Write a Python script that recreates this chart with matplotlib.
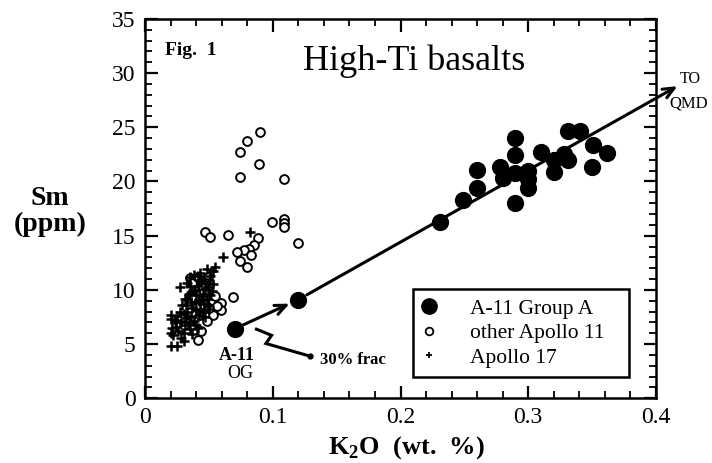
import matplotlib
matplotlib.use("Agg")
import matplotlib.pyplot as plt
from matplotlib.lines import Line2D
from matplotlib.ticker import MultipleLocator

# A-11 Group A (filled circles)
groupa_k2o = [0.231, 0.249, 0.260, 0.260, 0.278, 0.280, 0.290, 0.290, 0.290, 0.290,
              0.300, 0.300, 0.300, 0.310, 0.320, 0.320, 0.328, 0.331, 0.331, 0.341,
              0.350, 0.351, 0.362]
groupa_sm = [16.3, 18.3, 19.4, 21.1, 21.3, 20.3, 24.0, 22.4, 20.8, 18.0,
             21.0, 19.4, 20.2, 22.7, 22.0, 20.9, 22.5, 24.7, 22.0, 24.7,
             21.3, 23.4, 22.6]

# model points: A-11 OG parent and 30% fractionation product
og_k2o, og_sm = 0.070, 6.4
frac_k2o, frac_sm = 0.120, 9.1
qmd_k2o, qmd_sm = 0.417, 28.8

# other Apollo 11 (open circles)
a11_k2o = [0.090, 0.080, 0.0745, 0.0895, 0.0745, 0.109,
           0.047, 0.051, 0.065, 0.0996, 0.109, 0.109, 0.109, 0.120,
           0.0886, 0.085, 0.081, 0.077, 0.072, 0.0745, 0.080, 0.083,
           0.069, 0.059, 0.059, 0.053, 0.041, 0.035, 0.049, 0.051,
           0.053, 0.056, 0.038, 0.043, 0.048, 0.045, 0.040, 0.035,
           0.030, 0.044, 0.050, 0.046, 0.055, 0.037]
a11_sm = [24.6, 23.7, 22.7, 21.6, 20.4, 20.2,
          15.3, 14.9, 15.1, 16.3, 16.5, 16.2, 15.8, 14.3,
          14.8, 14.1, 13.8, 13.7, 13.5, 12.7, 12.1, 13.2,
          9.3, 8.8, 8.1, 7.7, 5.4, 11.1, 11.2, 9.6,
          9.0, 8.5, 9.3, 7.7, 7.1, 10.2, 8.4, 7.2,
          6.8, 6.2, 8.3, 9.8, 9.4, 10.6]

# Apollo 17 (plus signs)
a17_k2o = [0.027, 0.020, 0.020, 0.020, 0.020, 0.025, 0.021, 0.024, 0.026, 0.028,
           0.030, 0.031, 0.032, 0.033, 0.034, 0.035, 0.036, 0.037, 0.038, 0.039,
           0.040, 0.041, 0.042, 0.043, 0.044, 0.045, 0.046, 0.047, 0.048, 0.049,
           0.050, 0.051, 0.052, 0.053, 0.035, 0.038, 0.041, 0.033, 0.031, 0.029,
           0.027, 0.025, 0.023, 0.040, 0.042, 0.045, 0.047, 0.050, 0.055, 0.061,
           0.082, 0.037, 0.041, 0.033, 0.036, 0.039, 0.043, 0.048, 0.053, 0.030,
           0.028, 0.030, 0.032, 0.034, 0.036, 0.038, 0.040, 0.044, 0.046, 0.049,
           0.051, 0.024, 0.022, 0.035, 0.042]
a17_sm = [10.3, 7.7, 7.3, 6.0, 4.8, 4.8, 6.5, 7.0, 6.2, 5.6,
          6.0, 6.8, 7.4, 8.0, 7.0, 6.4, 7.6, 8.3, 7.1, 8.8,
          9.5, 10.4, 9.0, 8.2, 10.8, 9.6, 11.0, 10.1, 9.2, 8.5,
          10.6, 11.3, 9.9, 10.5, 11.2, 11.4, 11.3, 10.6, 9.2, 8.6,
          8.0, 7.6, 7.2, 6.8, 7.7, 8.0, 7.5, 8.2, 12.1, 13.0,
          15.3, 5.9, 6.5, 9.2, 9.8, 10.0, 11.6, 11.9, 11.7, 5.3,
          7.0, 7.8, 8.6, 9.6, 8.9, 9.9, 8.1, 9.1, 8.7, 10.3,
          9.5, 6.6, 5.8, 10.4, 10.9]

plt.rcParams['font.family'] = ['Liberation Serif', 'DejaVu Serif']
plt.rcParams['mathtext.fontset'] = 'custom'
plt.rcParams['mathtext.rm'] = 'Liberation Serif:bold'

fig = plt.figure(figsize=(7.12, 4.63), dpi=100)
ax = fig.add_axes([0.204, 0.140, 0.717, 0.819])

ax.scatter(a11_k2o, a11_sm, marker='o', s=40, facecolors='white', edgecolors='black',
           linewidths=1.4, zorder=3)
ax.scatter(a17_k2o, a17_sm, marker='+', s=55, color='black', linewidths=1.8, zorder=4)
ax.scatter(groupa_k2o, groupa_sm, marker='o', s=130, color='black', zorder=5)
ax.scatter([og_k2o, frac_k2o], [og_sm, frac_sm], marker='o', s=130, color='black', zorder=5)

# fractionation arrows
ax.annotate('', xy=(frac_k2o, frac_sm), xytext=(og_k2o, og_sm),
            arrowprops=dict(arrowstyle='->,head_length=0.8,head_width=0.35', lw=2.2,
                            color='black', shrinkA=7, shrinkB=7))
ax.annotate('', xy=(qmd_k2o, qmd_sm), xytext=(frac_k2o, frac_sm), annotation_clip=False,
            arrowprops=dict(arrowstyle='->,head_length=0.8,head_width=0.35', lw=2.2,
                            color='black', shrinkA=7, shrinkB=0))

# lightning pointer to "30% frac"
ax.plot([0.0871, 0.099, 0.0945, 0.129], [6.37, 5.80, 5.05, 3.88], color='black', lw=2.2,
        solid_joinstyle='miter', zorder=6)
ax.plot([0.129], [3.88], marker='o', ms=3.5, color='black', zorder=6)

ax.text(0.137, 3.2, '30% frac', fontsize=12, fontweight='bold', ha='left', va='baseline')
ax.text(0.072, 3.5, 'A-11', fontsize=13, fontweight='bold', ha='center', va='baseline')
ax.text(0.0745, 1.85, 'OG', fontsize=13, ha='center', va='baseline')
ax.text(0.427, 29.5, 'TO', fontsize=11.5, ha='center', va='center', clip_on=False)
ax.text(0.426, 27.2, 'QMD', fontsize=12, ha='center', va='center', clip_on=False)

ax.text(0.211, 30.3, 'High-Ti basalts', fontsize=26, ha='center', va='baseline')
ax.text(0.0157, 31.7, 'Fig.  1', fontsize=14, fontweight='bold', ha='left', va='baseline')

ax.set_xlim(0, 0.4)
ax.set_ylim(0, 35)
ax.xaxis.set_major_locator(MultipleLocator(0.1))
ax.xaxis.set_minor_locator(MultipleLocator(0.02))
ax.yaxis.set_major_locator(MultipleLocator(5))
ax.yaxis.set_minor_locator(MultipleLocator(1))
ax.xaxis.set_major_formatter(plt.FuncFormatter(lambda v, p: '0' if abs(v) < 1e-9 else f'{v:.1f}'))
ax.tick_params(which='both', direction='in', top=True, right=True, labelsize=17)
ax.tick_params(which='major', length=9, width=1.6)
ax.tick_params(which='minor', length=5, width=1.3)
ax.tick_params(axis='y', pad=7)
ax.tick_params(axis='x', pad=6)
for sp in ax.spines.values():
    sp.set_linewidth(1.8)

ax.text(0.511, -0.129, r'K$_\mathregular{2}$O  (wt.  %)', transform=ax.transAxes,
        fontsize=19, fontweight='bold', ha='center', va='center')
ax.text(-0.186, 0.493, 'Sm\n(ppm)', transform=ax.transAxes, fontsize=20,
        fontweight='bold', ha='center', va='center', linespacing=1.05)

handles = [
    Line2D([], [], ls='none', marker='o', ms=11, color='black'),
    Line2D([], [], ls='none', marker='o', ms=5.5, mfc='white', mec='black', mew=1.3),
    Line2D([], [], ls='none', marker='+', ms=5, color='black', mew=1.3),
]
labels = ['A-11 Group A', 'other Apollo 11', 'Apollo 17']
leg = ax.legend(handles, labels, loc='lower left', bbox_to_anchor=(0.524, 0.055, 0.423, 0.238),
                mode='expand', fontsize=15.5, frameon=True, fancybox=False, framealpha=1,
                borderpad=0.45, labelspacing=0.2, handlelength=0.6,
                handletextpad=1.6, borderaxespad=0)
leg.get_frame().set_edgecolor('black')
leg.get_frame().set_linewidth(1.8)

fig.savefig('out.png', dpi=100)
